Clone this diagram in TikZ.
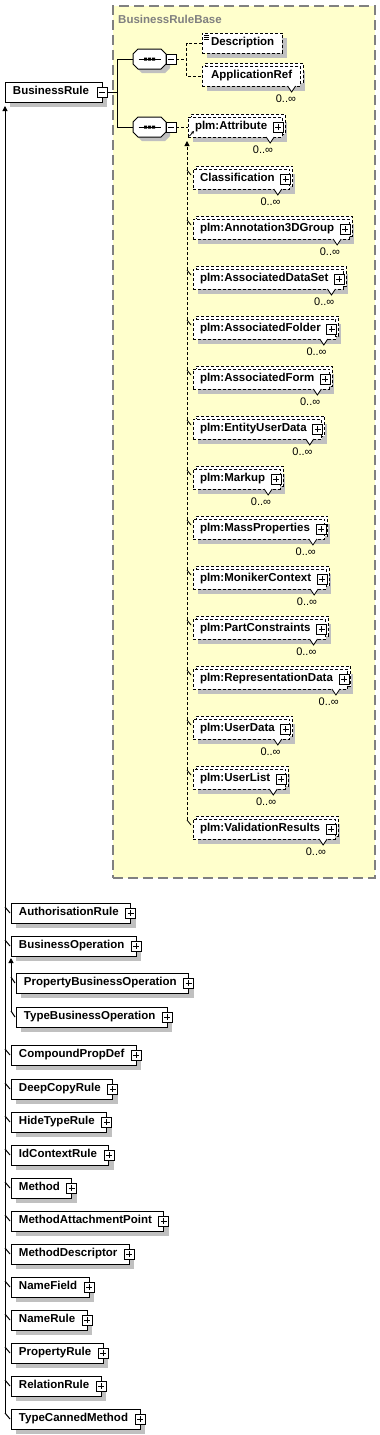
\documentclass[tikz,border=0pt]{standalone}
\usepackage{fontspec}
\setmainfont{Liberation Sans}
\usetikzlibrary{calc,arrows.meta}
\pgfdeclarelayer{bg}\pgfdeclarelayer{shd}\pgfdeclarelayer{bk}
\pgfsetlayers{bg,shd,bk,main}
\definecolor{grpfill}{HTML}{FFFFCC}
\definecolor{grpline}{HTML}{808080}
\definecolor{shdcol}{HTML}{C0C0C0}
\tikzset{
  elt/.style={draw=black, fill=white, line width=1pt, inner sep=0pt, outer sep=0pt,
    minimum height=20pt, text height=8.4pt, text depth=3.2pt, anchor=west,
    font=\fontsize{11.5}{13}\selectfont\bfseries},
  opt/.style={dash pattern=on 3pt off 2pt},
  pm/.style={draw=black, fill=white, line width=0.8pt, minimum size=10pt, inner sep=0pt, outer sep=0pt},
  conn/.style={line width=1pt, draw=black},
  dconn/.style={line width=1pt, draw=black, dash pattern=on 3pt off 2pt},
  card/.style={font=\fontsize{11}{12}\selectfont, inner sep=0pt, anchor=east},
  inh/.style={line width=1pt, -{Triangle[length=5pt,width=5pt]}},
  grptitle/.style={text=grpline, anchor=west, inner sep=0pt, font=\fontsize{11.5}{13}\selectfont\bfseries},
}
\newcommand\pmsign[2]{%
  \node[pm] (#1) at (#2) {};
  \draw[line width=0.8pt] ([xshift=-3pt]#1.center) -- ([xshift=3pt]#1.center);
  \draw[line width=0.8pt] ([yshift=-3pt]#1.center) -- ([yshift=3pt]#1.center);
}
\newcommand\mnsign[2]{%
  \node[pm] (#1) at (#2) {};
  \draw[line width=0.8pt] ([xshift=-3pt]#1.center) -- ([xshift=3pt]#1.center);
}
\newcommand\shadowof[1]{%
  \begin{pgfonlayer}{shd}\fill[shdcol] ($(#1.south west)+(5,5)$) rectangle ($(#1.north east)+(5,5)$);\end{pgfonlayer}}
\newcommand\backof[1]{%
  \begin{pgfonlayer}{bk}\draw[opt,line width=1pt,fill=white] ($(#1.south west)+(3,-3)$) rectangle ($(#1.north east)+(3,-3)$);\end{pgfonlayer}}
\newcommand\cardof[3]{%
  \draw[line width=0.8pt,fill=white] ($(#1.south east)+(-#2-4,0)$) -- ++(4,6) -- ++(4,-6);
  \node[card] (#1c) at ($(#1.south east)+(-#3,13)$) {0..∞};}
\newcommand\lbox[5]{%
  \node[elt] (#1) at (#2,#3) {\hspace*{8pt}#4\hspace*{12pt}};
  \shadowof{#1}
  \pmsign{#1p}{#1.east}
  \coordinate (#1t) at (#5,{#3-6});
  \draw[line width=1pt] (#1t) -- ({#2-1},#3);
}
\newcommand\membx[4]{%
  \node[elt,opt] (#1) at (#2,#3) {\hspace*{7pt}#4\hspace*{15pt}};
  \shadowof{#1}\backof{#1}
  \pmsign{#1p}{$(#1.east)+(-4,0)$}
  \cardof{#1}{12}{9}
}
\newcommand\mtick[1]{%
  \coordinate (#1t) at ($(#1.west)+(-6,-9)$);
  \draw[line width=0.8pt] (#1t) -- ($(#1.west)+(-2,-4)$);
}
\newcommand\seqc[3]{%
  \node[inner sep=0pt, outer sep=0pt, minimum width=33pt, minimum height=20pt] (#1) at (#2,#3) {};
  \begin{pgfonlayer}{shd}
  \fill[shdcol, shift={({#2+4},{#3+4})}] (-16.5,-5) -- (-11.5,-10) -- (11.5,-10) -- (16.5,-5) -- (16.5,5) -- (11.5,10) -- (-11.5,10) -- (-16.5,5) -- cycle;
  \end{pgfonlayer}
  \draw[line width=1pt, fill=white, shift={(#2,#3)}] (-16.5,-5) -- (-11.5,-10) -- (11.5,-10) -- (16.5,-5) -- (16.5,5) -- (11.5,10) -- (-11.5,10) -- (-16.5,5) -- cycle;
  \draw[line width=1pt, shift={(#2,#3)}] (-11,0) -- (11,0);
  \fill[shift={(#2,#3)}] (-5.5,-1.5) rectangle (-2.5,1.5) (-1.5,-1.5) rectangle (1.5,1.5) (2.5,-1.5) rectangle (5.5,1.5);
  \mnsign{#1m}{$(#1.east)+(5,0)$}
}
\begin{document}
\begin{tikzpicture}[x=1pt,y=-1pt]
\useasboundingbox (0,0) rectangle (380,1435);
% group
\begin{pgfonlayer}{bg}
\node[draw=grpline, fill=grpfill, line width=1.5pt, dash pattern=on 10pt off 5pt,
  minimum width=262pt, minimum height=872pt, anchor=north west, inner sep=0pt] (grp) at (112,5) {};
\end{pgfonlayer}
\node[grptitle] (grpt) at (118,19) {BusinessRuleBase};
% root
\node[elt] (br) at (5,92) {\hspace*{8pt}BusinessRule\hspace*{13pt}};
\shadowof{br}
\mnsign{brm}{br.east}
% sequences
\seqc{seqa}{149.5}{59}
\seqc{seqb}{149.5}{127}
\draw[conn] (brm.east) -- ++(10,0) coordinate (fork);
\draw[conn] (seqa.west) -| (fork) |- (seqb.west);
% first sequence children
\node[elt,opt] (desc) at (202,43) {\hspace*{9pt}Description\hspace*{8pt}};
\shadowof{desc}
\draw[line width=0.8pt] ($(desc.north west)+(2,2)$) -- ++(5,0) ($(desc.north west)+(2,4)$) -- ++(5,0) ($(desc.north west)+(2,6)$) -- ++(5,0);
\node[elt,opt] (appref) at (202,76) {\hspace*{9pt}ApplicationRef\hspace*{8pt}};
\shadowof{appref}\backof{appref}
\cardof{appref}{8.5}{4}
\draw[dconn] (seqam.east) -- ++(10.5,0) coordinate (fork2);
\draw[dconn] (desc.west) -| (fork2) |- (appref.west);
% second sequence: substitution group
\membx{attr}{188}{127}{plm:Attribute}
\draw[line width=0.8pt,-{Stealth[length=3pt,width=3pt]}] ($(attr.south west)+(1.5,-1)$) -- ($(attr.south west)+(6,-6)$);
\draw[dconn] (seqbm.east) -- (attr.west);
\membx{mcla}{193}{179}{Classification}\mtick{mcla}
\membx{mann}{193}{229}{plm:Annotation3DGroup}\mtick{mann}
\membx{mads}{193}{279}{plm:AssociatedDataSet}\mtick{mads}
\membx{mafo}{193}{329}{plm:AssociatedFolder}\mtick{mafo}
\membx{mafr}{193}{379}{plm:AssociatedForm}\mtick{mafr}
\membx{meud}{193}{429}{plm:EntityUserData}\mtick{meud}
\membx{mmar}{193}{479}{plm:Markup}\mtick{mmar}
\membx{mmas}{193}{529}{plm:MassProperties}\mtick{mmas}
\membx{mmon}{193}{579}{plm:MonikerContext}\mtick{mmon}
\membx{mpar}{193}{629}{plm:PartConstraints}\mtick{mpar}
\membx{mrep}{193}{679}{plm:RepresentationData}\mtick{mrep}
\membx{mudt}{193}{729}{plm:UserData}\mtick{mudt}
\membx{mulst}{193}{779}{plm:UserList}\mtick{mulst}
\membx{mval}{193}{829}{plm:ValidationResults}\mtick{mval}
\draw[dconn,-{Triangle[length=5pt,width=5pt]}] (mvalt) -- ($(attr.south west)+(-1,4)$);
% derived types
\lbox{lau}{11}{913}{AuthorisationRule}{5}
\lbox{lbo}{11}{946}{BusinessOperation}{5}
\lbox{lpbo}{16}{983}{PropertyBusinessOperation}{11}
\lbox{ltbo}{16}{1017}{TypeBusinessOperation}{11}
\draw[inh] (ltbot) -- ($(lbo.south west)+(0,2)$);
\lbox{lcpd}{11}{1055}{CompoundPropDef}{5}
\lbox{ldcr}{11}{1089}{DeepCopyRule}{5}
\lbox{lhtr}{11}{1122}{HideTypeRule}{5}
\lbox{licr}{11}{1155}{IdContextRule}{5}
\lbox{lmet}{11}{1188}{Method}{5}
\lbox{lmap}{11}{1221}{MethodAttachmentPoint}{5}
\lbox{lmde}{11}{1254}{MethodDescriptor}{5}
\lbox{lnf}{11}{1287}{NameField}{5}
\lbox{lnr}{11}{1320}{NameRule}{5}
\lbox{lpr}{11}{1353}{PropertyRule}{5}
\lbox{lrr}{11}{1386}{RelationRule}{5}
\lbox{ltcm}{11}{1419}{TypeCannedMethod}{5}
\draw[inh] (ltcmt) -- ($(br.south west)+(0,4)$);
\end{tikzpicture}
\end{document}
